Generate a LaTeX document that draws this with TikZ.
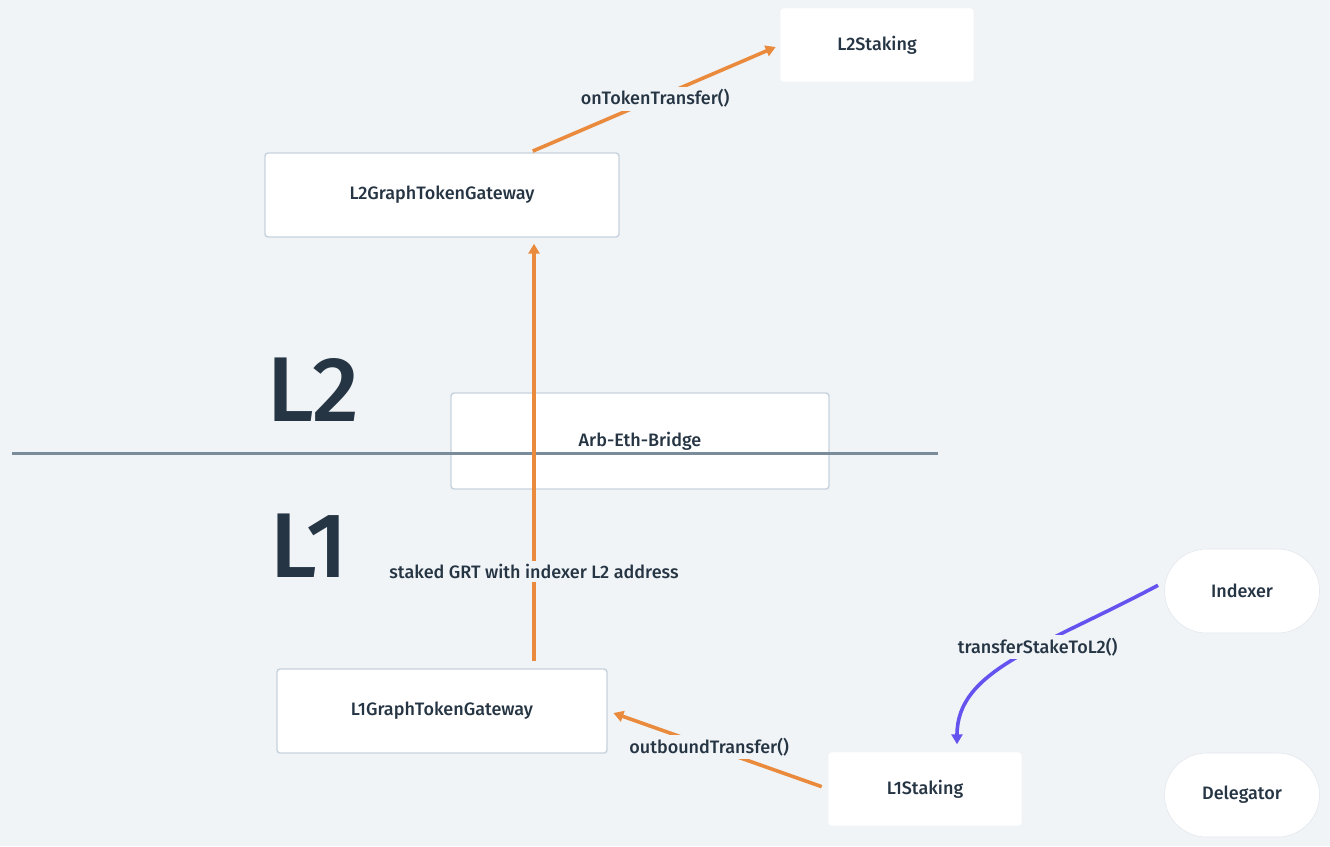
\documentclass[tikz,border=0pt]{standalone}
\usepackage{fontspec}
\setmainfont{Fira Sans}[UprightFont={* Medium}]
\usetikzlibrary{arrows.meta}

\definecolor{bg}{HTML}{F0F4F7}
\definecolor{ink}{HTML}{263544}
\definecolor{boxline}{HTML}{C7D2DC}
\definecolor{flow}{HTML}{EA8A3C}
\definecolor{call}{HTML}{6553F0}
\definecolor{split}{HTML}{7A8B9A}

\begin{document}
\begin{tikzpicture}[x=1pt,y=-1pt,
  box/.style={draw=boxline,fill=white,line width=1.4pt,rounded corners=3pt,text=ink,font=\fontsize{18}{21}\selectfont},
  plainbox/.style={box,draw=white},
  actor/.style={box,draw=boxline!50,line width=0.6pt,rounded corners=42pt,minimum width=155pt,minimum height=84pt},
  lbl/.style={fill=bg,inner sep=3pt,text=ink,font=\fontsize{18}{21}\selectfont},
  flowarrow/.style={draw=flow,line width=3.6pt,-{Triangle[length=10pt,width=11pt]}},
  callarrow/.style={draw=call,line width=3.6pt,-{Triangle[length=10pt,width=11pt]}}]
\path [fill=bg] (0,0) rectangle (1330,846);
\useasboundingbox (0,0) rectangle (1330,846);
\node [plainbox,minimum width=192pt,minimum height=72pt] (l2staking) at (877,45) {L2Staking};
\node [box,minimum width=354pt,minimum height=84pt] (l2gateway) at (442,195) {L2GraphTokenGateway};
\node [box,minimum width=378pt,minimum height=96pt] (bridge) at (640,441) {Arb-Eth-Bridge};
\node [box,minimum width=330pt,minimum height=84pt] (l1gateway) at (442,711) {L1GraphTokenGateway};
\node [plainbox,minimum width=192pt,minimum height=72pt] (l1staking) at (925,789) {L1Staking};
\node [actor] (indexer) at (1242,591) {Indexer};
\node [actor] (delegator) at (1242,795) {Delegator};
\draw [split,line width=3pt] (12,453) to (938,453);
\node [text=ink,font=\fontsize{92}{92}\selectfont] (l2) at (313,390) {L2};
\node [text=ink,font=\fontsize{92}{92}\selectfont] (l1) at (309,546) {L1};
\draw [flowarrow,shorten <=7pt,shorten >=6pt] ([xshift=92pt]l1gateway.north) to node [lbl,pos=0.225] {staked GRT with indexer L2 address} ([xshift=92pt]l2gateway.south);
\draw [flowarrow,shorten <=3pt,shorten >=5pt] ([xshift=88pt]l2gateway.north) to node [lbl] {onTokenTransfer()} (l2staking.west);
\draw [flowarrow,shorten <=7pt,shorten >=6pt] (l1staking.west) to node [lbl,pos=0.54] {outboundTransfer()} (l1gateway.east);
\draw [callarrow,shorten <=7pt,shorten >=8pt] ([yshift=9pt]indexer.west) .. controls (1040,648) and (957,670) .. node [lbl,pos=0.4] {transferStakeToL2()} ([xshift=32pt]l1staking.north);
\end{tikzpicture}
\end{document}
